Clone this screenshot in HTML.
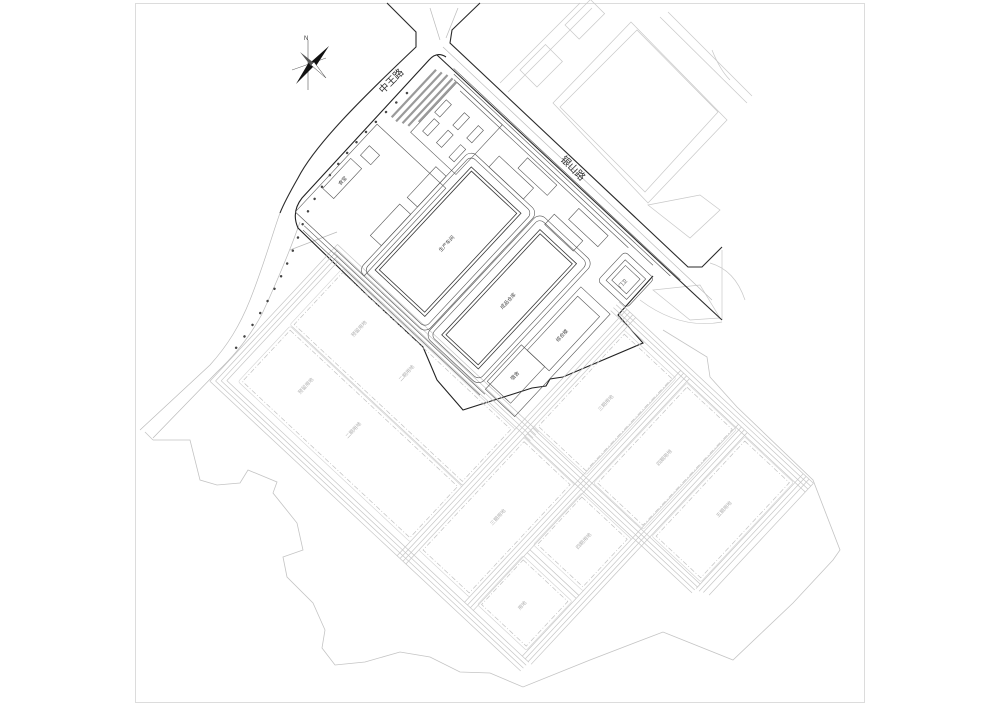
<!DOCTYPE html>
<html><head><meta charset="utf-8"><style>
html,body{margin:0;padding:0;background:#fff;}
svg{display:block;}
text{font-family:"Liberation Sans","Noto Sans CJK SC",sans-serif;}
</style></head><body>
<svg width="1000" height="707" viewBox="0 0 1000 707" xmlns="http://www.w3.org/2000/svg">
<rect x="0" y="0" width="1000" height="707" fill="#fff"/>
<!-- frame -->
<rect x="135.5" y="3.5" width="729" height="699" fill="none" stroke="#d4d4d4" stroke-width="0.8"/>

<!-- neighbouring light drawings top-right -->
<g fill="none" stroke="#c8c8c8" stroke-width="0.7">
<polygon points="560,107 637,30 718,112 645,192"/>
<polygon points="553,103 631,22 727,120 648,203"/>
<line x1="500" y1="83" x2="580" y2="3"/><line x1="508" y1="92" x2="592" y2="8"/>
<rect x="0" y="0" width="36" height="24" transform="translate(520,70) rotate(-45)"/>
<rect x="0" y="0" width="36" height="20" transform="translate(565,25) rotate(-45)"/>
<line x1="660" y1="17" x2="747" y2="103"/><line x1="668" y1="12" x2="752" y2="96"/>
<path d="M712,50 Q720,70 730,80"/>
<polygon points="648,205 690,238 720,210 700,195"/>
<path d="M710,263 Q735,270 745,300"/><path d="M722,250 L722,320"/>
<polygon points="653,290 690,320 720,318 700,285"/>
<path d="M640,300 Q680,330 722,322"/>
</g>

<!-- roads (dark) -->
<g fill="none" stroke="#2a2a2a" stroke-width="1.1">
<path d="M480,3 L452,30 L450,43 L688,267 L702,267 L722,247"/>
<path d="M437,55 L722,320"/>
<path d="M387,3 L416,32 L416,47 C360,100 315,145 298,178 C290,192 284,203 280,213"/>
</g>
<g fill="none" stroke="#bbb" stroke-width="0.7">
<path d="M280,213 C272,235 265,262 250,300 C240,325 228,345 210,365 L140,430"/>
<path d="M300,222 C292,245 280,275 262,314 C248,340 232,358 217,372 L153,438"/>
<path d="M443,47 L712,300"/><path d="M430,8 L440,40"/><path d="M458,8 L446,38"/>
<path d="M290,250 L337,232"/>
</g>
<!-- trees along road -->
<path d="M407,93 Q330,160 304,220 Q282,290 229,357" fill="none" stroke="#444" stroke-width="2.4" stroke-linecap="round" stroke-dasharray="0.1 14"/>

<!-- road labels -->
<text x="0" y="0" font-size="10" fill="#333" transform="translate(383,94) rotate(-45)">中王路</text>
<text x="0" y="0" font-size="10" fill="#333" transform="translate(560,160) rotate(45)">银山路</text>

<!-- north arrow -->
<g>
<line x1="308" y1="40" x2="308" y2="90" stroke="#555" stroke-width="0.6"/>
<line x1="292" y1="70" x2="326" y2="58" stroke="#555" stroke-width="0.5"/>
<polygon points="329,46 316,66 311,62" fill="#111"/>
<polygon points="296,84 309,62 314,66" fill="#111"/>
<polygon points="300,52 314,63 311,66" fill="#555"/>
<polygon points="326,78 311,65 314,62" fill="#fff" stroke="#333" stroke-width="0.5"/>
<text x="304" y="40" font-size="6" fill="#333">N</text>
</g>

<!-- site boundary -->
<path d="M446,57 Q437,51 429,60 L302,198 Q291,212 298,228 L367,295 L423,347 L437,380 L463,410 L532,388 L546,386 L550,379 L563,377 L643,343 L618,315 L653,276" fill="none" stroke="#222" stroke-width="1.1"/>

<!-- terrain -->
<path d="M153,440 L190,440 L200,480 L217,485 L240,483 L248,470 L277,482 L273,493 L297,523 L303,550 L283,557 L287,577 L313,603 L325,630 L322,648 L335,665 L365,662 L400,652 L430,657 L460,672 L490,673 L523,687 L590,660 L663,632 L733,660 L793,603 L833,560 L840,550 L813,480 L737,407 L710,377 L707,357 L663,330" fill="none" stroke="#c4c4c4" stroke-width="0.8"/>
<path d="M145,432 L153,440" stroke="#c4c4c4" stroke-width="0.8"/>

<!-- rotated local frame -->
<g transform="translate(437,57) rotate(43)">
 <!-- plots and roads (light) -->
 <g fill="none" stroke="#c6c6c6" stroke-width="0.7">
  <!-- road bands -->
  <path d="M55,205 L330,205 M55,209 L330,209 M58,213 L330,213 M62,217 L330,217"/>
  <path d="M300,55 L566,55 M300,59 L566,59 M300,63 L566,63 M300,67 L566,67"/>
  <path d="M55,205 L55,392 M59,209 L59,388 M63,213 L63,384 M67,217 L67,380"/>
  <path d="M55,392 L480,392 M59,388 L480,388 M63,384 L480,384 M67,380 L480,380"/>
  <path d="M311,55 L311,392 M315,55 L315,392 M319,55 L319,392 M323,55 L323,392"/>
  <path d="M392,63 L392,380 M396,63 L396,380 M400,63 L400,380 M404,63 L404,380"/>
  <path d="M471,63 L471,380 M475,63 L475,380 M479,63 L479,380 M483,63 L483,380"/>
  <path d="M552,55 L552,212 M556,55 L556,212 M560,55 L560,210 M566,55 L566,208"/>
  <path d="M323,206 L552,206 M323,210 L552,210 M323,214 L552,214 M323,218 L552,218"/>
  <path d="M404,297 L471,297 M404,301 L471,301"/>
  <path d="M310,296 L78,296"/>
 </g>
 <g fill="none" stroke="#c2c2c2" stroke-width="0.7" stroke-dasharray="5,2,1,2">
  <rect x="78" y="222" width="230" height="71"/>
  <rect x="79" y="300" width="229" height="70"/>
  <rect x="326" y="222" width="63" height="148"/>
  <rect x="326" y="75" width="65" height="126"/>
  <rect x="408" y="71" width="62" height="131"/>
  <rect x="487" y="71" width="61" height="130"/>
  <rect x="406" y="223" width="62" height="65"/>
  <rect x="406" y="309" width="61" height="61"/>
 </g>
 <g fill="none" stroke="#d2d2d2" stroke-width="0.6">
  <rect x="75" y="219" width="236" height="77" rx="2"/>
  <rect x="76" y="297" width="235" height="76" rx="2"/>
  <rect x="323" y="219" width="69" height="154" rx="2"/>
  <rect x="323" y="72" width="71" height="132" rx="2"/>
  <rect x="405" y="68" width="68" height="137" rx="2"/>
  <rect x="484" y="68" width="67" height="136" rx="2"/>
  <rect x="403" y="220" width="68" height="71" rx="2"/>
  <rect x="403" y="306" width="67" height="67" rx="2"/>
 </g>
 <g font-size="5" fill="#b0b0b0">
  <text transform="translate(195,262) rotate(-90)">二期用地</text>
  <text transform="translate(130,262) rotate(-90)">预留用地</text>
  <text transform="translate(195,340) rotate(-90)">二期用地</text>
  <text transform="translate(130,340) rotate(-90)">预留用地</text>
  <text transform="translate(360,305) rotate(-90)">三期用地</text>
  <text transform="translate(361,148) rotate(-90)">三期用地</text>
  <text transform="translate(441,148) rotate(-90)">四期用地</text>
  <text transform="translate(520,145) rotate(-90)">五期用地</text>
  <text transform="translate(439,264) rotate(-90)">四期用地</text>
  <text transform="translate(438,348) rotate(-90)">用地</text>
 </g>

 <!-- site contents (dark) -->
 <g fill="none" stroke="#3a3a3a" stroke-width="0.8">
  <rect x="100" y="57" width="68" height="141"/>
  <rect x="103" y="60" width="62" height="135"/>
  <rect x="193" y="56" width="50" height="144"/>
  <rect x="196" y="59" width="44" height="138"/>
 </g>
 <g fill="none" stroke="#555" stroke-width="0.6">
  <rect x="92" y="49" width="84" height="157" rx="6"/>
  <rect x="88" y="45" width="92" height="165" rx="8"/>
  <rect x="185" y="48" width="66" height="160" rx="6"/>
  <rect x="181" y="44" width="74" height="168" rx="8"/>
  <path d="M20,-3 L330,-3 M24,1 L320,1 M28,5 L300,5 M40,9 L270,9"/>
  <path d="M18,214 L265,214 M20,218 L262,218"/>
  <rect x="113" y="30" width="47" height="15"/>
  <rect x="135" y="12" width="40" height="14"/>
  <rect x="193" y="35" width="39" height="14"/>
  <rect x="207" y="14" width="40" height="15"/>
  <rect x="266" y="79" width="30" height="74"/>
  <rect x="258" y="153" width="32" height="50"/>
  <rect x="262" y="70" width="40" height="140"/>
  <rect x="276" y="20" width="28" height="28"/>
  <rect x="280" y="24" width="20" height="20"/>
  <rect x="270" y="14" width="40" height="40" rx="4"/>
  <rect x="6" y="133" width="15" height="41"/>
  <rect x="11" y="111" width="14" height="13"/>
  <rect x="74" y="81" width="14" height="42"/>
  <rect x="73" y="133" width="15" height="43"/>
  <rect x="32" y="5" width="62" height="68"/>
  <rect x="2" y="90" width="94" height="120"/>
  <rect x="36" y="25" width="7" height="17"/>
  <rect x="58" y="22" width="7" height="17"/>
  <rect x="77" y="22" width="7" height="17"/>
  <rect x="40" y="47" width="7" height="17"/>
  <rect x="58" y="46" width="7" height="17"/>
  <rect x="77" y="48" width="7" height="17"/>
 </g>
 <g stroke="#9a9a9a" stroke-width="2.2">
  <line x1="8" y1="10" x2="8" y2="75"/><line x1="14" y1="8" x2="14" y2="75"/>
  <line x1="20" y1="6" x2="20" y2="72"/><line x1="26" y1="5" x2="26" y2="70"/>
  <line x1="31" y1="5" x2="31" y2="60"/>
 </g>
 <g font-size="5" fill="#444">
  <text transform="translate(136,140) rotate(-90)">生产车间</text>
  <text transform="translate(220,140) rotate(-90)">成品仓库</text>
  <text transform="translate(283,126) rotate(-90)">综合楼</text>
  <text transform="translate(276,185) rotate(-90)">宿舍</text>
  <text transform="translate(292,44) rotate(-90)">门卫</text>
  <text transform="translate(17,160) rotate(-90)">食堂</text>
 </g>
</g>
</svg>
</body></html>
